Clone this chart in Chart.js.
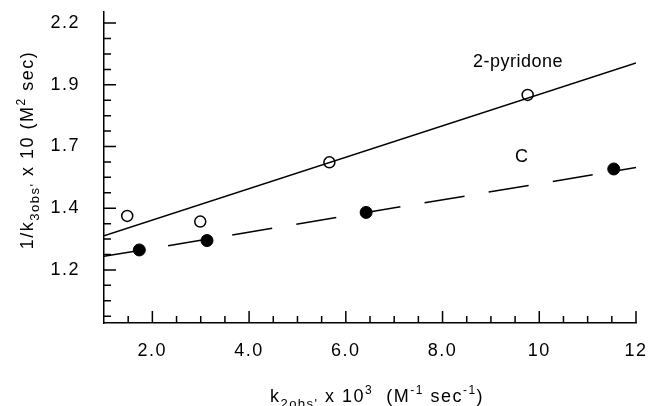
<!DOCTYPE html>
<html>
<head>
<meta charset="utf-8">
<script src="https://cdn.jsdelivr.net/npm/chart.js@4.4.0/dist/chart.umd.min.js"></script>
<style>
  html, body { margin: 0; padding: 0; background: #fff; }
  #wrap { width: 652px; height: 406px; }
</style>
</head>
<body>
<div id="wrap"><canvas id="kinChart" width="652" height="406"></canvas></div>
<script>
// measured points, k2obs x 10^3 against 1/k3obs x 10
const pyridoneX = [1.48, 2.99, 5.66, 9.76];
const pyridoneY = [1.419, 1.396, 1.636, 1.909];
const cX = [1.73, 3.13, 6.42, 11.54];
const cY = [1.281, 1.319, 1.433, 1.609];

// fitted straight lines, ends at x = 1 and x = 12
const fitX = [1, 12];
const pyridoneFit = [1.338, 2.039];
const cFit = [1.255, 1.615];

const xTicks = [2, 4, 6, 8, 10, 12];
const xTickLabels = ['2.0', '4.0', '6.0', '8.0', '10', '12'];
const yTicks = [1.2, 1.45, 1.7, 1.95, 2.2];
const yTickLabels = ['1.2', '1.4', '1.7', '1.9', '2.2'];

const FONT = '"Liberation Sans", Arial, Helvetica, sans-serif';

function pts(xs, ys) {
    return xs.map((x, i) => ({ x: x, y: ys[i] }));
}

// draw a row of text pieces (text, size, vertical shift)
function drawRuns(ctx, runs, x, y) {
    let w = 0;
    runs.forEach(r => {
        ctx.font = r[1] + 'px ' + FONT;
        w += ctx.measureText(r[0]).width;
    });
    let cx = x - w / 2;
    ctx.textAlign = 'left';
    ctx.textBaseline = 'alphabetic';
    runs.forEach(r => {
        ctx.font = r[1] + 'px ' + FONT;
        ctx.fillText(r[0], cx, y + r[2]);
        cx += ctx.measureText(r[0]).width;
    });
}

const decor = {
    id: 'decor',
    beforeDraw(chart) {
        chart.ctx.letterSpacing = '1.5px';
    },
    afterDatasetsDraw(chart) {
        const ctx = chart.ctx;
        const xs = chart.scales.x, ys = chart.scales.y;
        const area = chart.chartArea;
        ctx.save();
        ctx.strokeStyle = '#000';
        ctx.lineWidth = 1.5;
        ctx.beginPath();
        // inward tick marks on x
        for (let v = xs.min + 0.5; v <= xs.max + 1e-9; v += 0.5) {
            const px = xs.getPixelForValue(v);
            const len = xTicks.some(t => Math.abs(t - v) < 1e-6) ? 12 : 7;
            ctx.moveTo(px, area.bottom);
            ctx.lineTo(px, area.bottom - len);
        }
        // inward tick marks on y
        for (let v = yTicks[yTicks.length - 1]; v >= ys.min; v -= 0.0625) {
            const py = ys.getPixelForValue(v);
            const major = yTicks.some(t => Math.abs(t - v) < 1e-6);
            ctx.moveTo(area.left, py);
            ctx.lineTo(area.left + (major ? 12 : 7), py);
        }
        ctx.stroke();

        // series names
        ctx.fillStyle = '#000';
        ctx.letterSpacing = '0.5px';
        ctx.font = '18px ' + FONT;
        ctx.textAlign = 'left';
        ctx.textBaseline = 'alphabetic';
        ctx.fillText('2-pyridone', xs.getPixelForValue(8.63), ys.getPixelForValue(2.022));
        ctx.textAlign = 'center';
        ctx.textBaseline = 'middle';
        ctx.fillText('C', xs.getPixelForValue(9.64), ys.getPixelForValue(1.658));

        // axis titles
        ctx.letterSpacing = '1.5px';
        drawRuns(ctx, [
            ['k', 18, 0], ["2obs'", 13, 6], [' x 10', 18, 0], ['3', 12, -8],
            ['  (M', 18, 0], ['-1', 12, -8], [' sec', 18, 0], ['-1', 12, -8], [')', 18, 0]
        ], (area.left + area.right) / 2 + 7, 402);

        ctx.translate(33, 150);
        ctx.rotate(-Math.PI / 2);
        drawRuns(ctx, [
            ['1/k', 18, 0], ["3obs'", 13, 6], [' x 10 (M', 18, 0], ['2', 12, -8], [' sec)', 18, 0]
        ], 0, 0);
        ctx.restore();
    }
};

const ctx = document.getElementById('kinChart').getContext('2d');
const kinChart = new Chart(ctx, {
    type: 'scatter',
    data: {
        datasets: [{
            data: pts(fitX, pyridoneFit),
            showLine: true,
            borderColor: '#000',
            borderWidth: 1.5,
            pointRadius: 0,
            pointHoverRadius: 0
        }, {
            data: pts(fitX, cFit),
            showLine: true,
            borderColor: '#000',
            borderWidth: 1.5,
            borderDash: [40.5, 24.5],
            pointRadius: 0,
            pointHoverRadius: 0
        }, {
            label: '2-pyridone',
            data: pts(pyridoneX, pyridoneY),
            pointRadius: 5.5,
            pointBackgroundColor: '#fff',
            pointBorderColor: '#000',
            pointBorderWidth: 1.5
        }, {
            label: 'C',
            data: pts(cX, cY),
            pointRadius: 6,
            pointBackgroundColor: '#000',
            pointBorderColor: '#000',
            pointBorderWidth: 1
        }]
    },
    options: {
        responsive: false,
        animation: false,
        events: [],
        layout: { padding: { left: 0, right: 16, top: 12, bottom: 0 } },
        plugins: {
            legend: { display: false },
            tooltip: { enabled: false }
        },
        scales: {
            x: {
                type: 'linear',
                min: 1,
                max: 12,
                grid: { display: false, drawTicks: false },
                border: { display: true, color: '#000', width: 1.5 },
                ticks: {
                    color: '#000',
                    font: { family: FONT, size: 18 },
                    padding: 17,
                    maxRotation: 0,
                    callback: (v, i) => xTickLabels[i]
                },
                afterBuildTicks: s => { s.ticks = xTicks.map(v => ({ value: v })); },
                afterFit: s => {
                    s.height = 83;
                    s.paddingLeft = 0; s.paddingRight = 0;
                }
            },
            y: {
                type: 'linear',
                min: 0.985,
                max: 2.245,
                grid: { display: false, drawTicks: false },
                border: { display: true, color: '#000', width: 1.5 },
                ticks: {
                    color: '#000',
                    font: { family: FONT, size: 18 },
                    padding: 24,
                    callback: (v, i) => yTickLabels[i]
                },
                afterBuildTicks: s => { s.ticks = yTicks.map(v => ({ value: v })); },
                afterFit: s => {
                    s.width = 104;
                    s.paddingTop = 0; s.paddingBottom = 0;
                }
            }
        }
    },
    plugins: [decor]
});
</script>
</body>
</html>
